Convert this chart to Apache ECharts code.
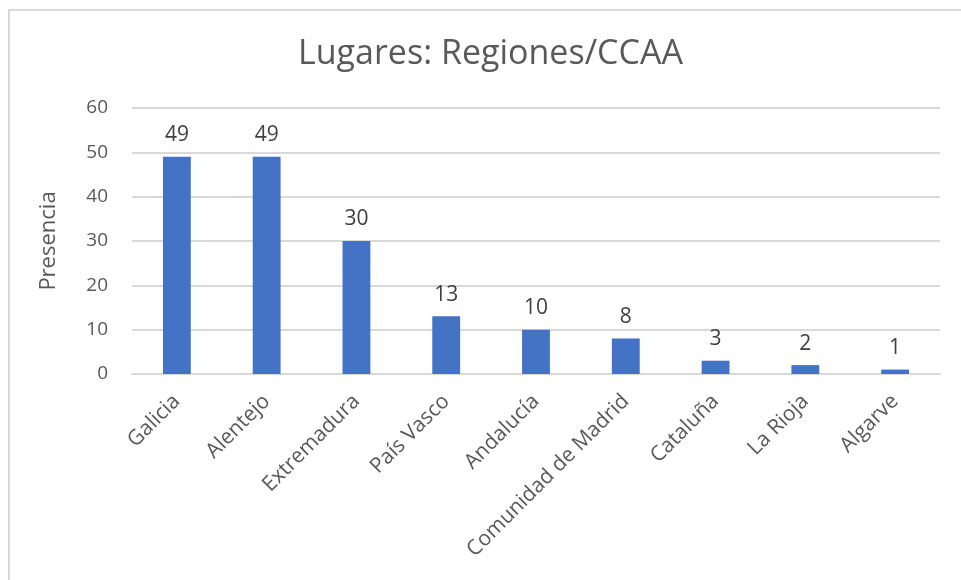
<!DOCTYPE html>
<html>
<head>
<meta charset="utf-8">
<script src="https://cdn.jsdelivr.net/npm/echarts@6/dist/echarts.min.js"></script>
<style>
  html, body { margin: 0; padding: 0; background: #fff; }
  #frame { position: absolute; left: 8px; top: 9px; width: 1000px; height: 620px; border: 2px solid #d9d9d9; box-sizing: border-box; }
  #main { position: absolute; left: 0; top: 0; width: 961px; height: 580px; }
</style>
</head>
<body>
<div id="frame"></div>
<div id="main"></div>
<script>
// categorias y valores del gráfico
const regiones = ['Galicia', 'Alentejo', 'Extremadura', 'País Vasco', 'Andalucía', 'Comunidad de Madrid', 'Cataluña', 'La Rioja', 'Algarve'];
const presencia = [49, 49, 30, 13, 10, 8, 3, 2, 1];
const yTicks = [0, 10, 20, 30, 40, 50, 60];

const font = '"Open Sans", "Noto Sans", sans-serif';

const myChart = echarts.init(document.getElementById('main'));
myChart.setOption({
    animation: false,
    title: {
        text: 'Lugares: Regiones/CCAA',
        left: 293,
        top: 32,
        textStyle: { fontFamily: font, fontSize: 34, fontWeight: 'normal', color: '#595959' }
    },
    grid: { left: 132, right: 21, top: 108, bottom: 206, containLabel: false },
    xAxis: {
        type: 'category',
        data: regiones,
        axisLine: { lineStyle: { color: '#d9d9d9', width: 2 } },
        axisTick: { show: false },
        axisLabel: {
            rotate: 45, interval: 0, margin: 24,
            fontFamily: font, fontSize: 21, color: '#595959'
        }
    },
    yAxis: {
        type: 'value',
        min: yTicks[0],
        max: yTicks[yTicks.length - 1],
        interval: 10,
        name: 'Presencia',
        nameLocation: 'middle',
        nameGap: 72,
        nameTextStyle: { fontFamily: font, fontSize: 22, color: '#595959' },
        axisLine: { show: false },
        axisTick: { show: false },
        splitLine: { lineStyle: { color: '#d9d9d9', width: 2 } },
        axisLabel: { margin: 24, fontFamily: font, fontSize: 19, color: '#595959' }
    },
    series: [{
        type: 'bar',
        data: presencia,
        barWidth: '31%',
        itemStyle: { color: '#4472c4' },
        label: {
            show: true, position: 'top', distance: 11,
            fontFamily: font, fontSize: 21, color: '#404040'
        }
    }]
});
</script>
</body>
</html>
